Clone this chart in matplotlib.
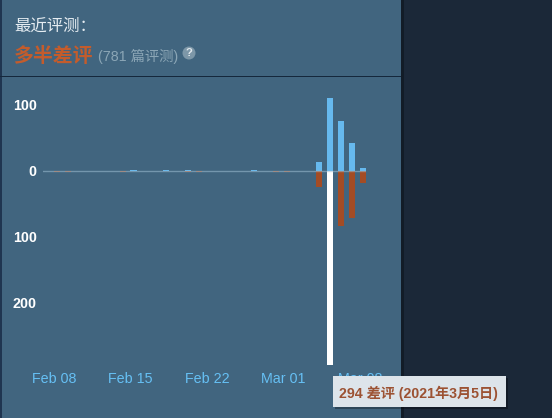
import matplotlib
matplotlib.use("Agg")
import matplotlib.pyplot as plt
from matplotlib.patches import Rectangle, Circle
from matplotlib.transforms import ScaledTranslation, IdentityTransform

W, H = 552, 418
FONT = ['Liberation Sans', 'Noto Sans CJK SC']
plt.rcParams['font.family'] = FONT

# days since Feb 08
days = [0, 1, 6, 7, 10, 12, 13, 18, 20, 21, 24, 25, 26, 27, 28]
positive = [0, 0, 0, 2, 1, 2, 0, 2, 0, 0, 13, 111, 75, 42, 5]
negative = [2, 2, 1, 0, 0, 1, 2, 0, 1, 1, 24, 0, 84, 72, 18]
highlight_day = 25
highlight_value = 294
tick_days = [0, 7, 14, 21, 28]
tick_labels = ['Feb 08', 'Feb 15', 'Feb 22', 'Mar 01', 'Mar 08']
y_ticks = [100, 0, -100, -200]
y_labels = ['100', '0', '100', '200']

fig = plt.figure(figsize=(W / 100, H / 100), dpi=100, facecolor='#1b2838')


def px_rect(x0, y0, x1, y1, color, z=-5, alpha=1.0):
    fig.add_artist(Rectangle((x0 / W, 1 - y1 / H), (x1 - x0) / W, (y1 - y0) / H,
                             transform=fig.transFigure, fc=color, ec='none', zorder=z, alpha=alpha))


def px_text(x, y, s, **kw):
    return fig.text(x / W, 1 - y / H, s, **kw)


px_rect(0, 0, 401, H, '#41657f')
px_rect(401, 0, 404, H, '#121c27')
px_rect(0, 0, 1.5, H, '#1f3550')
px_rect(0, 75.5, 401, 77, '#15283c')

ax = fig.add_axes([43 / W, 1 - 370 / H, (366 - 43) / W, (370 - 85) / H])
ax.patch.set_alpha(0)
ax.set_xlim(-1.28, 28.27)
ax.set_ylim(-301.5, 130)
for s in ax.spines.values():
    s.set_visible(False)

ax.bar(days, positive, width=0.55, color='#66b9ee', zorder=2)
ax.bar(days, [-v for v in negative], width=0.55, color='#a34c25', zorder=2)
ax.bar([highlight_day], [-highlight_value], width=0.55, color='#ffffff', zorder=3)
ax.axhline(0, color='#9fc0d4', lw=1.0, alpha=0.55, zorder=4)

ax.set_xticks(tick_days, tick_labels)
ax.set_yticks(y_ticks, y_labels)
ax.tick_params(axis='both', length=0)
ax.tick_params(axis='x', pad=1.5, labelsize=10.3, labelcolor='#66c0f4')
ax.tick_params(axis='y', pad=4.5, labelsize=10.3, labelcolor='#ffffff')
for t in ax.get_yticklabels():
    t.set_fontweight('bold')
shift = ScaledTranslation(-3 / 100, 0, fig.dpi_scale_trans)
for t in ax.get_xticklabels():
    t.set_transform(t.get_transform() + shift)

px_text(14, 26, '最近评测：', color='#e6edf2', fontsize=11.8, va='center', ha='left')
px_text(14, 56, '多半差评', color='#c35c2c', fontsize=14.3, fontweight='bold', va='center', ha='left')
px_text(98, 56, '(781 篇评测)', color='#8ba6b6', fontsize=10.3, va='center', ha='left')
fig.add_artist(Circle((189, H - 53), 6.5, transform=IdentityTransform(), fc='#7d97a8', ec='none', zorder=2))
px_text(189, 53, '?', color='#dfe7ec', fontsize=8, fontweight='bold', va='center', ha='center')

px_rect(335, 378, 508, 409, '#000000', z=4, alpha=0.3)
px_rect(333, 376, 506, 407, '#dde4ea', z=5)
px_text(339, 393, '294 差评 (2021年3月5日)', color='#9c5233', fontsize=10.2, fontweight='bold',
        va='center', ha='left', zorder=6)

fig.savefig('out.png', dpi=100, facecolor=fig.get_facecolor())
